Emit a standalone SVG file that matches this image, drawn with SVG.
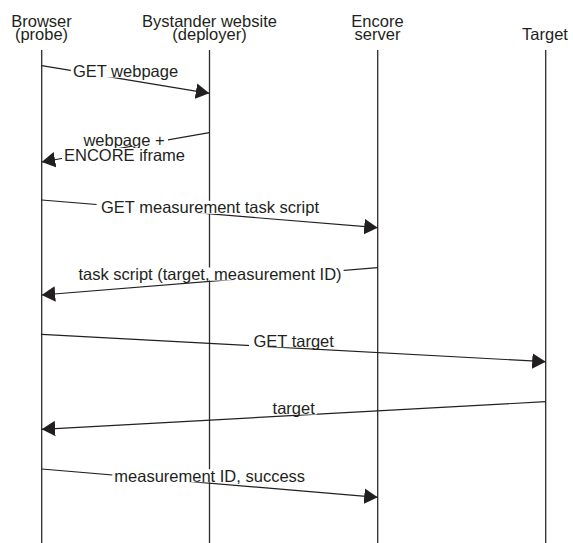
<svg xmlns="http://www.w3.org/2000/svg" width="573" height="543" viewBox="0 0 573 543">
  <style>
    text { font-family: "Liberation Sans", Arial, sans-serif; font-size: 16.5px; fill: #231f20; text-anchor: middle; }
    .life { stroke: #2e2b2c; stroke-width: 1.3; fill: none; }
    .msg { stroke: #231f20; stroke-width: 1.2; fill: none; marker-end: url(#head); }
    .bg { fill: #ffffff; }
  </style>
  <defs>
    <marker id="head" markerUnits="userSpaceOnUse" markerWidth="14" markerHeight="16" viewBox="0 0 14 16" refX="13.5" refY="8" orient="auto">
      <path d="M0,0.2 L13.5,8 L0,15.8 Z" fill="#231f20"/>
    </marker>
  </defs>
  <rect width="573" height="543" fill="#ffffff"/>

  <!-- participants with their lifelines -->
  <g id="browser">
    <text x="41.5" y="26.8">Browser</text>
    <text x="41.5" y="40">(probe)</text>
    <line class="life" x1="41.7" y1="50" x2="41.7" y2="543"/>
  </g>
  <g id="bystander">
    <text x="209.5" y="26.8">Bystander website</text>
    <text x="209.5" y="40">(deployer)</text>
    <line class="life" x1="209.5" y1="50" x2="209.5" y2="543"/>
  </g>
  <g id="encore">
    <text x="377.5" y="26.8">Encore</text>
    <text x="377.5" y="40">server</text>
    <line class="life" x1="377.7" y1="50" x2="377.7" y2="543"/>
  </g>
  <g id="target">
    <text x="545" y="40">Target</text>
    <line class="life" x1="545.7" y1="50" x2="545.7" y2="543"/>
  </g>

  <!-- messages -->
  <g id="connectors">
    <line class="msg" x1="41.7" y1="65.7" x2="209.3" y2="93.3"/>
    <line class="msg" x1="209.3" y1="132.7" x2="41.7" y2="162"/>
    <line class="msg" x1="41.7" y1="200" x2="377.7" y2="227.7"/>
    <line class="msg" x1="377.7" y1="267.7" x2="41.7" y2="295"/>
    <line class="msg" x1="41.7" y1="334.3" x2="545.7" y2="361.7"/>
    <line class="msg" x1="545.7" y1="401.7" x2="41.7" y2="429.3"/>
    <line class="msg" x1="41.7" y1="469" x2="377.7" y2="497.3"/>
  </g>

  <!-- message labels on white backing -->
  <g id="labels">
    <rect class="bg" x="70.8" y="64.5" width="109.4" height="13"/>
    <text x="125.5" y="77">GET webpage</text>

    <rect class="bg" x="81" y="133" width="87" height="13"/>
    <text x="124" y="145.5">webpage +</text>
    <rect class="bg" x="62" y="148" width="125" height="13"/>
    <text x="124.5" y="160.5">ENCORE iframe</text>

    <rect class="bg" x="96.6" y="200.8" width="226.8" height="13"/>
    <text x="210" y="213.3">GET measurement task script</text>

    <rect class="bg" x="76.4" y="267.5" width="267.2" height="13"/>
    <text x="210" y="280">task script (target, measurement ID)</text>

    <rect class="bg" x="249" y="334.2" width="89.3" height="13"/>
    <text x="293.7" y="346.7">GET target</text>

    <rect class="bg" x="270.6" y="401.5" width="46.2" height="13"/>
    <text x="293.7" y="414">target</text>

    <rect class="bg" x="112.3" y="469.2" width="194.7" height="13"/>
    <text x="209.7" y="481.7">measurement ID, success</text>
  </g>
</svg>
